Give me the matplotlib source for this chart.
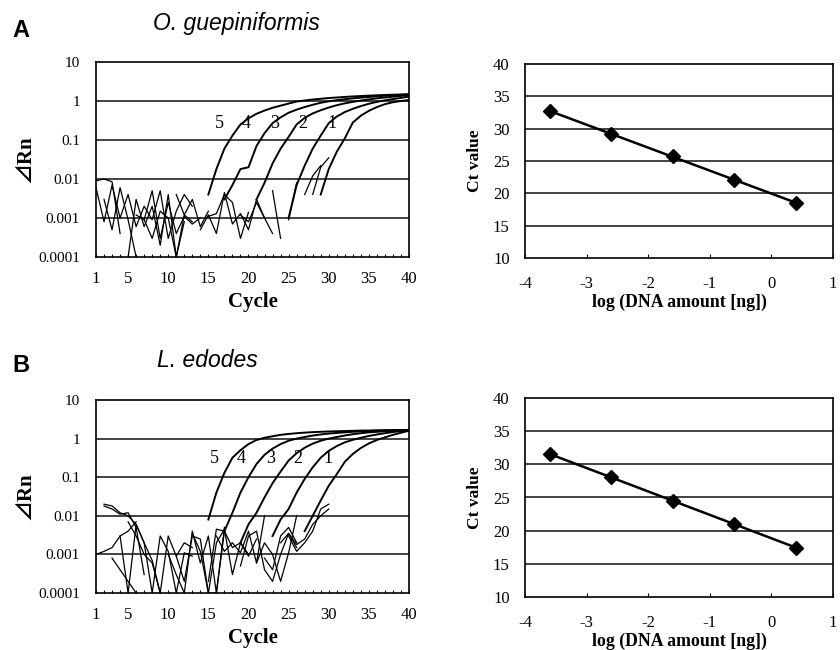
import numpy as np
import matplotlib
matplotlib.use("Agg")
import matplotlib.pyplot as plt
from matplotlib.ticker import FixedLocator, NullFormatter

SERIF = ['Liberation Serif', 'DejaVu Serif']
SANS = ['Liberation Sans', 'DejaVu Sans']
DELTA = ['Liberation Serif', 'Noto Sans CJK JP']

# ---- amplification curves, panel A (start cycle, values per cycle) ----
a_curves = {
    5: (15, [0.004, 0.018, 0.06, 0.13, 0.25, 0.36, 0.47, 0.57, 0.67, 0.76, 0.86, 0.97, 1.03,
             1.09, 1.14, 1.19, 1.23, 1.27, 1.31, 1.34, 1.37, 1.40, 1.43, 1.45, 1.47, 1.49]),
    4: (17, [0.003, 0.007, 0.018, 0.02, 0.07, 0.15, 0.27, 0.38, 0.5, 0.6, 0.7, 0.8, 0.9, 0.98,
             1.05, 1.11, 1.17, 1.22, 1.27, 1.32, 1.36, 1.40, 1.44, 1.47]),
    3: (21, [0.003, 0.008, 0.025, 0.06, 0.12, 0.25, 0.37, 0.48, 0.58, 0.68, 0.78, 0.87, 0.95,
             1.03, 1.1, 1.17, 1.23, 1.29, 1.35, 1.42]),
    2: (25, [0.001, 0.007, 0.022, 0.06, 0.13, 0.27, 0.4, 0.52, 0.63, 0.74, 0.85, 0.95, 1.04,
             1.12, 1.2, 1.3]),
    1: (29, [0.004, 0.018, 0.05, 0.11, 0.28, 0.42, 0.56, 0.7, 0.83, 0.93, 1.0, 1.06]),
}
a_label_x = [16.4, 19.75, 23.3, 26.8, 30.4]
a_label_y = 0.16

# noise traces panel A (start cycle, values)
a_noise = [
    (1, [0.009, 0.010, 0.0085, 0.0004]),
    (1, [0.006, 0.0008, 0.007, 0.001, 0.004, 0.0006, 0.002, 0.0009, 0.005, 0.0003, 0.0015, 0.004, 0.002]),
    (2, [0.003, 0.0005, 0.006, 0.0009, 0.0001]),
    (5, [0.0001, 0.003, 0.0006, 0.002, 0.0002, 0.004, 0.0001, 0.0012, 0.0008]),
    (6, [0.0012, 0.0009, 0.005, 0.0003, 0.0025, 0.0004, 0.0011, 0.0007, 0.001]),
    (7, [0.0009, 0.0003, 0.0015, 0.001, 0.0001, 0.0008]),
    (11, [0.004, 0.0012, 0.003, 0.0006, 0.0015]),
    (14, [0.0005, 0.0012, 0.0004, 0.0045, 0.0007, 0.0013, 0.0005, 0.003, 0.001, 0.0004]),
    (15, [0.0011, 0.0013, 0.004, 0.0025, 0.0003, 0.0014]),
    (19, [0.0012, 0.0008, 0.0025, 0.001]),
    (23, [0.005, 0.0003]),
    (25, [0.0009, 0.008]),
    (27, [0.004, 0.012, 0.022]),
    (28, [0.004, 0.02, 0.035]),
]

# ---- amplification curves, panel B ----
b_curves = {
    5: (15, [0.008, 0.04, 0.13, 0.32, 0.5, 0.72, 0.92, 1.05, 1.15, 1.25, 1.32, 1.38, 1.43, 1.47,
             1.5, 1.53, 1.55, 1.57, 1.59, 1.61, 1.62, 1.64, 1.65, 1.66, 1.67, 1.68]),
    4: (17, [0.004, 0.012, 0.04, 0.1, 0.22, 0.38, 0.55, 0.72, 0.88, 1.0, 1.1, 1.2, 1.28, 1.35,
             1.4, 1.45, 1.5, 1.54, 1.57, 1.6, 1.62, 1.64, 1.66, 1.68]),
    3: (19, [0.002, 0.006, 0.012, 0.03, 0.07, 0.14, 0.27, 0.42, 0.58, 0.74, 0.88, 1.0, 1.1, 1.2,
             1.3, 1.38, 1.45, 1.5, 1.55, 1.6, 1.64, 1.68]),
    2: (23, [0.003, 0.008, 0.015, 0.04, 0.09, 0.18, 0.32, 0.48, 0.64, 0.8, 0.93, 1.05, 1.17,
             1.28, 1.38, 1.48, 1.57, 1.65]),
    1: (27, [0.004, 0.01, 0.025, 0.06, 0.12, 0.25, 0.4, 0.57, 0.75, 0.92, 1.08, 1.25, 1.42, 1.6]),
}
b_label_x = [15.8, 19.1, 22.75, 26.2, 29.95]
b_label_y = 0.18

b_noise = [
    (1, [0.001, 0.0012, 0.0015, 0.003, 0.004, 0.007]),
    (2, [0.02, 0.018, 0.012, 0.01, 0.006, 0.002]),
    (2, [0.018, 0.015, 0.011, 0.012, 0.005, 0.0003]),
    (3, [0.0008, 0.0004, 0.0002, 0.0001]),
    (4, [0.003, 0.0001, 0.006, 0.002, 0.0007, 0.0001]),
    (5, [0.007, 0.003, 0.001, 0.0006, 0.0001, 0.003, 0.0009, 0.002, 0.0015]),
    (7, [0.002, 0.0001, 0.003, 0.0012, 0.0001, 0.0011, 0.0009]),
    (10, [0.001, 0.0003, 0.0001, 0.004, 0.0006, 0.003, 0.0001, 0.005]),
    (11, [0.0009, 0.0002, 0.003, 0.0025, 0.0001, 0.0001, 0.004]),
    (13, [0.0035, 0.0012, 0.0001, 0.002, 0.0045, 0.0003, 0.002, 0.001]),
    (15, [0.0002, 0.0045, 0.004, 0.0015, 0.002, 0.0009, 0.0025]),
    (16, [0.003, 0.0012, 0.002, 0.0011, 0.004, 0.0006, 0.01]),
    (19, [0.0005, 0.003, 0.004, 0.0004, 0.0002, 0.001, 0.0035, 0.0015]),
    (21, [0.0006, 0.002, 0.001, 0.0002, 0.0011, 0.01]),
    (22, [0.0008, 0.0004, 0.003, 0.005, 0.002]),
    (24, [0.002, 0.0035, 0.0018, 0.0025, 0.006, 0.01, 0.015]),
    (25, [0.003, 0.0012, 0.002, 0.004, 0.015, 0.02]),
]

# ---- standard curves ----
log_dna = [-3.6, -2.6, -1.6, -0.6, 0.4]
ct_a = [32.7, 29.2, 25.7, 22.1, 18.5]
ct_b = [31.5, 28.1, 24.5, 21.0, 17.4]

fig = plt.figure(figsize=(8.4, 6.5), dpi=100)


def amp_panel(ax, curves, noise, label_x, label_y):
    ax.set_yscale('log')
    ax.set_ylim(1e-4, 10)
    ax.set_xlim(1, 40)
    for yv in [1e-3, 1e-2, 1e-1, 1]:
        ax.axhline(yv, color='#222222', lw=1.2, zorder=1)
    for start, vals in noise:
        cyc = np.arange(start, start + len(vals))
        ax.plot(cyc, vals, color='black', lw=0.9, zorder=2)
    for k, (start, vals) in curves.items():
        cyc = np.arange(start, start + len(vals))
        ax.plot(cyc, vals, color='black', lw=1.4, zorder=3)
    for lab, lx in zip([5, 4, 3, 2, 1], label_x):
        ax.text(lx, label_y, str(lab), fontsize=13, family=SERIF, ha='center', va='bottom', zorder=4)
    ax.yaxis.set_major_locator(FixedLocator([1e-4, 1e-3, 1e-2, 1e-1, 1, 10]))
    ax.yaxis.set_minor_formatter(NullFormatter())
    ax.set_yticklabels(['0.0001', '0.001', '0.01', '0.1', '1', '10'])
    ax.tick_params(axis='y', which='both', length=0, pad=11.5)
    ax.set_xticks([1, 5, 10, 15, 20, 25, 30, 35, 40])
    ax.xaxis.set_minor_locator(FixedLocator(np.arange(1, 41)))
    ax.tick_params(axis='x', which='both', direction='in', length=2.5, width=0.8, pad=10)
    for lab in ax.get_yticklabels():
        lab.set_family(SERIF)
        lab.set_fontsize(11)
    for lab in ax.get_xticklabels():
        lab.set_family(SERIF)
        lab.set_fontsize(12)
    ax.set_xlabel('Cycle', family=SERIF, fontsize=15, fontweight='bold', labelpad=4)
    ax.set_ylabel('⊿Rn', family=DELTA, fontsize=15, fontweight='bold', labelpad=2)
    for s in ax.spines.values():
        s.set_linewidth(1.2)


def std_panel(ax, ct):
    ax.set_xlim(-4, 1)
    ax.set_ylim(10, 40)
    for yv in [15, 20, 25, 30, 35]:
        ax.axhline(yv, color='#222222', lw=1.2, zorder=1)
    slope, icpt = np.polyfit(log_dna, ct, 1)
    xx = np.array([log_dna[0], log_dna[-1]])
    ax.plot(xx, slope * xx + icpt, color='black', lw=1.8, zorder=2)
    ax.plot(log_dna, ct, 'D', color='black', ms=7, zorder=3)
    ax.set_xticks([-4, -3, -2, -1, 0, 1])
    ax.set_xticklabels(['-4', '-3', '-2', '-1', '0', '1'])
    ax.set_yticks([10, 15, 20, 25, 30, 35, 40])
    ax.tick_params(axis='y', length=0, pad=11)
    ax.tick_params(axis='x', direction='in', length=3, width=0.8, pad=13)
    for lab in ax.get_xticklabels() + ax.get_yticklabels():
        lab.set_family(SERIF)
        lab.set_fontsize(12)
    ax.set_xlabel('log (DNA amount [ng])', family=SERIF, fontsize=12.8, fontweight='bold', labelpad=1)
    ax.set_ylabel('Ct value', family=SERIF, fontsize=12.5, fontweight='bold', labelpad=7)
    for s in ax.spines.values():
        s.set_linewidth(1.2)


ax1 = fig.add_axes([96 / 840, 1 - 257 / 650, 313 / 840, 195 / 650])
amp_panel(ax1, a_curves, a_noise, a_label_x, a_label_y)
ax2 = fig.add_axes([525 / 840, 1 - 258 / 650, 308 / 840, 194 / 650])
std_panel(ax2, ct_a)
ax3 = fig.add_axes([96 / 840, 1 - 593 / 650, 313 / 840, 193 / 650])
amp_panel(ax3, b_curves, b_noise, b_label_x, b_label_y)
ax4 = fig.add_axes([525 / 840, 1 - 597 / 650, 308 / 840, 199 / 650])
std_panel(ax4, ct_b)

fig.text(12 / 840, 1 - 37 / 650, 'A', family=SANS, fontsize=17, fontweight='bold', va='baseline')
fig.text(153 / 840, 1 - 30 / 650, 'O. guepiniformis', family=SANS, fontsize=16.5, style='italic',
         ha='left', va='baseline')
fig.text(12 / 840, 1 - 372 / 650, 'B', family=SANS, fontsize=17, fontweight='bold', va='baseline')
fig.text(157 / 840, 1 - 367 / 650, 'L. edodes', family=SANS, fontsize=16.5, style='italic',
         ha='left', va='baseline')

fig.savefig('out.png', dpi=100)
